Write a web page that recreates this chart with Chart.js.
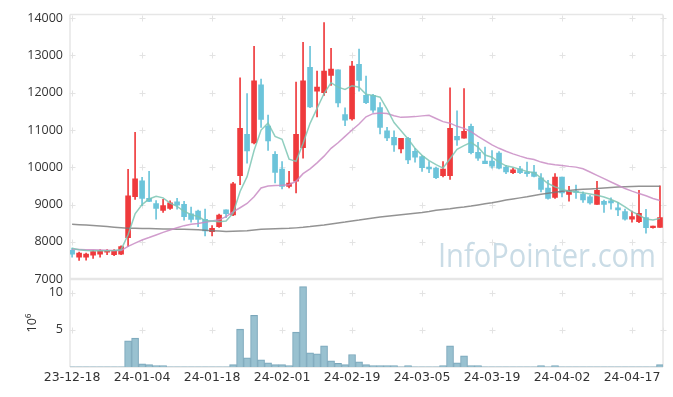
<!DOCTYPE html>
<html>
<head>
<meta charset="utf-8">
<script src="https://cdn.jsdelivr.net/npm/chart.js@4.4.1/dist/chart.umd.min.js"></script>
<style>
  html, body { margin: 0; padding: 0; background: #fff; }
</style>
</head>
<body>
<canvas id="stockChart" width="673" height="397"></canvas>
<script>
// trading days (yy-mm-dd)
const dates = [
  "23-12-18","23-12-19","23-12-20","23-12-21","23-12-22","23-12-26","23-12-27","23-12-28","24-01-02","24-01-03",
  "24-01-04","24-01-05","24-01-08","24-01-09","24-01-10","24-01-11","24-01-12","24-01-15","24-01-16","24-01-17",
  "24-01-18","24-01-19","24-01-22","24-01-23","24-01-24","24-01-25","24-01-26","24-01-29","24-01-30","24-01-31",
  "24-02-01","24-02-02","24-02-05","24-02-06","24-02-07","24-02-08","24-02-13","24-02-14","24-02-15","24-02-16",
  "24-02-19","24-02-20","24-02-21","24-02-22","24-02-23","24-02-26","24-02-27","24-02-28","24-02-29","24-03-04",
  "24-03-05","24-03-06","24-03-07","24-03-08","24-03-11","24-03-12","24-03-13","24-03-14","24-03-15","24-03-18",
  "24-03-19","24-03-20","24-03-21","24-03-22","24-03-25","24-03-26","24-03-27","24-03-28","24-03-29","24-04-01",
  "24-04-02","24-04-03","24-04-04","24-04-05","24-04-08","24-04-09","24-04-11","24-04-12","24-04-15","24-04-16",
  "24-04-17","24-04-18","24-04-19","24-04-22","24-04-23"
];
const tickDays = [0, 10, 20, 30, 40, 50, 60, 70, 80];

const openPrice = [
  7770,7590,7590,7645,7670,7720,7655,7670,8115,9210,
  9635,9170,9030,8845,8900,9075,9010,8755,8825,8605,
  8275,8405,8860,8720,9775,10885,10655,12215,11105,10350,
  9950,9490,9625,10530,12685,12045,12000,12465,12615,11415,
  11295,12765,11930,11930,11605,10980,10805,10495,10780,10430,
  10290,10005,9980,9775,9775,10830,10780,11100,10405,10165,
  10165,10385,10005,9855,9960,9855,9875,9720,9445,9190,
  9740,9270,9360,9285,9205,9005,9090,9100,8915,8810,
  8610,8540,8650,8380,8390
];
const highPrice = [
  7830,7725,7700,7770,7790,7790,7795,7890,9945,10940,
  9730,9890,9110,9140,9100,9165,9090,8930,8850,8880,
  8435,8745,8860,9600,12400,11975,13245,12365,11400,10420,
  10155,9890,12285,13350,13245,12580,13885,13190,12615,11595,
  12845,13175,12445,11960,11735,11070,10980,10780,10805,10510,
  10315,10155,10005,10155,12135,11515,12110,11160,10670,10540,
  10450,10425,10050,9980,10025,10140,10050,9830,9650,9830,
  9740,9490,9520,9340,9250,9625,9120,9180,9055,8880,
  8825,9385,8870,8420,9500
];
const lowPrice = [
  7590,7500,7510,7555,7590,7655,7627,7655,7880,9140,
  8970,9080,8610,8790,8870,8880,8585,8525,8410,8160,
  8160,8390,8650,8700,9535,10110,10630,11070,10450,9580,
  9420,9445,9315,10245,11600,11355,11930,12200,11620,11115,
  11265,12045,11710,11470,10895,10715,10425,10385,10095,10140,
  9890,9855,9695,9740,9675,10585,10780,10360,10185,10095,
  9980,9960,9830,9830,9830,9755,9740,9340,9145,9165,
  9205,9090,9165,9055,9010,9005,8790,8880,8700,8585,
  8525,8515,8230,8370,8390
];
const closePrice = [
  7670,7700,7670,7740,7760,7745,7770,7875,9235,9690,
  9165,9085,8900,8970,9050,8985,8675,8605,8605,8295,
  8365,8720,8755,9555,11045,10440,12320,11285,10705,9865,
  9490,9580,10885,12320,11620,12155,12580,12635,11725,11265,
  12715,12330,11735,11535,11070,10790,10600,10780,10200,10270,
  9990,9960,9720,9950,11045,10735,10965,10390,10245,10095,
  10030,9980,9875,9935,9855,9830,9755,9410,9165,9740,
  9315,9360,9325,9125,9045,9385,9005,9045,8860,8610,
  8675,8765,8380,8415,8650
];

// moving averages as drawn on the reference
const ma5 = [
  7830,7790,7770,7760,7760,7760,7770,7790,8190,8750,
  9000,9150,9225,9180,9040,8950,8820,8730,8680,8570,
  8560,8540,8560,8770,9350,9750,10450,11000,11190,10830,
  10750,10220,10160,10640,11180,11580,11980,12270,12150,12090,
  12190,12150,11960,11930,11880,11560,11200,10980,10760,10510,
  10320,10180,10070,9980,10230,10480,10580,10670,10540,10330,
  10270,10140,10040,10000,9945,9890,9855,9715,9565,9475,
  9410,9360,9340,9320,9285,9250,9205,9135,9055,8940,
  8810,8720,8610,8585,8630
];
const ma20 = [
  7800,7795,7790,7785,7780,7775,7770,7765,7880,7965,
  8050,8115,8185,8255,8320,8380,8435,8470,8495,8525,
  8560,8590,8675,8805,8915,9030,9210,9445,9500,9515,
  9520,9535,9625,9830,9960,10120,10300,10510,10660,10830,
  11000,11160,11355,11440,11455,11445,11385,11340,11350,11360,
  11380,11395,11310,11225,11185,11100,11045,10955,10830,10715,
  10600,10510,10430,10360,10300,10245,10210,10140,10095,10070,
  10050,10025,10005,9960,9875,9785,9695,9605,9520,9430,
  9360,9295,9235,9165,9110
];
const ma120 = [
  8475,8462,8450,8437,8425,8410,8395,8380,8365,8362,
  8358,8355,8352,8348,8345,8340,8335,8330,8322,8312,
  8300,8290,8280,8283,8290,8300,8320,8340,8348,8354,
  8358,8362,8375,8390,8410,8435,8455,8480,8505,8530,
  8560,8585,8615,8640,8665,8690,8710,8730,8750,8770,
  8790,8815,8845,8870,8890,8915,8935,8960,8990,9020,
  9050,9085,9120,9150,9180,9210,9245,9275,9305,9330,
  9355,9375,9395,9410,9420,9430,9445,9460,9470,9480,
  9485,9490,9492,9495,9495
];

// volume in millions of shares
const volume = [
  0.03,0.03,0.03,0.03,0.03,0.03,0.03,0.03,3.5,3.9,
  0.44,0.31,0.18,0.18,0.03,0.03,0.03,0.03,0.03,0.03,
  0.03,0.03,0.03,0.31,5.08,1.24,6.94,0.97,0.57,0.31,
  0.31,0.18,4.69,10.8,1.9,1.77,2.83,0.84,0.49,0.31,
  1.68,0.71,0.31,0.18,0.18,0.18,0.18,0.03,0.18,0.03,
  0.03,0.03,0.03,0.18,2.83,0.57,1.5,0.18,0.18,0.03,
  0.03,0.03,0.03,0.03,0.03,0.03,0.03,0.18,0.03,0.18,
  0.03,0.03,0.03,0.03,0.03,0.03,0.03,0.03,0.03,0.03,
  0.03,0.03,0.03,0.03,0.31
];

const UP = "rgb(239, 58, 60)";
const DOWN = "rgb(108, 196, 218)";
const candleColor = closePrice.map((c, i) => (c >= openPrice[i] ? UP : DOWN));

const wickData = dates.map((d, i) => ({ x: i, y: [lowPrice[i], highPrice[i]] }));
const bodyData = dates.map((d, i) => ({ x: i, y: [openPrice[i], closePrice[i]] }));
const toPoints = (arr) => arr.map((v, i) => ({ x: i, y: v }));

// grid crosses, frame lines and watermark
const framePlugin = {
  id: "frame",
  beforeDatasetsDraw(chart) {
    const { ctx, chartArea: a, scales } = chart;
    ctx.save();

    ctx.fillStyle = "#cadce6";
    ctx.font = "32px 'Open Sans'";
    ctx.textBaseline = "alphabetic";
    ctx.fillText("InfoPointer.com", 438, 267, 218);

    const xs = tickDays.map(v => scales.x.getPixelForValue(v));
    xs.push(a.right);
    const ys = [8000, 9000, 10000, 11000, 12000, 13000, 14000].map(v => scales.y.getPixelForValue(v))
      .concat([5, 10].map(v => scales.yVol.getPixelForValue(v)));
    ctx.strokeStyle = "#e3e3e3";
    ctx.lineWidth = 1;
    ctx.beginPath();
    xs.forEach(x => ys.forEach(y => {
      const px = Math.round(x) + 0.5, py = Math.round(y) + 0.5;
      ctx.moveTo(px - 3, py); ctx.lineTo(px + 3, py);
      ctx.moveTo(px, py - 3); ctx.lineTo(px, py + 3);
    }));
    ctx.stroke();

    ctx.strokeStyle = "#e6e6e6";
    ctx.lineWidth = 1.5;
    ctx.beginPath();
    ctx.moveTo(a.left, a.top); ctx.lineTo(a.right, a.top);
    ctx.moveTo(a.left, a.bottom); ctx.lineTo(a.right, a.bottom);
    ctx.moveTo(a.left, a.top); ctx.lineTo(a.left, a.bottom);
    ctx.moveTo(a.right, a.top); ctx.lineTo(a.right, a.bottom);
    ctx.stroke();
    ctx.lineWidth = 2.5;
    ctx.beginPath();
    ctx.moveTo(a.left, scales.y.bottom); ctx.lineTo(a.right, scales.y.bottom);
    ctx.stroke();
    ctx.restore();
  }
};

Chart.defaults.font.family = "'Open Sans', 'Noto Sans', sans-serif";
Chart.defaults.font.size = 12.5;
Chart.defaults.color = "#333";

const ctx = document.getElementById("stockChart").getContext("2d");
new Chart(ctx, {
  type: "bar",
  data: {
    datasets: [
      {
        type: "line", label: "MA5", data: toPoints(ma5), yAxisID: "y",
        borderColor: "rgba(125, 198, 180, 0.85)", borderWidth: 1.5, pointRadius: 0, order: 1
      },
      {
        type: "line", label: "MA20", data: toPoints(ma20), yAxisID: "y",
        borderColor: "rgba(201, 140, 196, 0.85)", borderWidth: 1.5, pointRadius: 0, order: 1
      },
      {
        type: "line", label: "MA120", data: toPoints(ma120), yAxisID: "y",
        borderColor: "rgba(120, 120, 120, 0.8)", borderWidth: 1.5, pointRadius: 0, order: 1
      },
      {
        label: "wick", data: wickData, yAxisID: "y", grouped: false,
        backgroundColor: candleColor, barThickness: 1, order: 3
      },
      {
        label: "body", data: bodyData, yAxisID: "y", grouped: false,
        backgroundColor: candleColor, barThickness: 5, minBarLength: 1.5, order: 2
      },
      {
        label: "Volume", data: toPoints(volume), yAxisID: "yVol", grouped: false,
        backgroundColor: "rgba(148, 190, 206, 0.95)", borderColor: "rgb(122, 166, 186)",
        borderWidth: 1, barThickness: 7, order: 2
      }
    ]
  },
  options: {
    responsive: false,
    animation: false,
    layout: { padding: { left: 0, right: 10, top: 11, bottom: 9 } },
    plugins: { legend: { display: false }, tooltip: { enabled: false } },
    scales: {
      x: {
        type: "linear",
        offset: false,
        bounds: "data",
        min: -0.3,
        max: 84.43,
        grid: { display: false, drawTicks: false },
        border: { display: false },
        afterBuildTicks: (scale) => { scale.ticks = tickDays.map(v => ({ value: v })); },
        ticks: {
          autoSkip: false,
          maxRotation: 0,
          padding: 3,
          font: { family: "'DejaVu Sans', sans-serif", size: 12.5 },
          callback: (v) => dates[v]
        }
      },
      yVol: {
        position: "left",
        stack: "panel",
        stackWeight: 89,
        min: 0,
        max: 11.8,
        grid: { display: false, drawTicks: false },
        border: { display: false },
        afterBuildTicks: (scale) => { scale.ticks = [5, 10].map(v => ({ value: v })); },
        afterFit: (scale) => { scale.width = 70; },
        title: { display: true, text: "10\u2076", padding: { top: 25, bottom: 0 } },
        ticks: { padding: 7, callback: (v) => String(v) }
      },
      y: {
        position: "left",
        stack: "panel",
        stackWeight: 268,
        min: 7000,
        max: 14100,
        grid: { display: false, drawTicks: false },
        border: { display: false },
        afterBuildTicks: (scale) => {
          scale.ticks = [7000, 8000, 9000, 10000, 11000, 12000, 13000, 14000].map(v => ({ value: v }));
        },
        afterFit: (scale) => { scale.width = 70; },
        ticks: { padding: 7, callback: (v) => String(v) }
      }
    }
  },
  plugins: [framePlugin]
});
</script>
</body>
</html>
